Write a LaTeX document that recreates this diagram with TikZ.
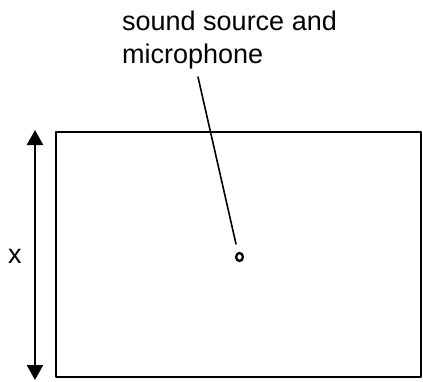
\documentclass[tikz,border=0pt]{standalone}
\usepackage{fontspec}
\setmainfont{Liberation Sans}
\usetikzlibrary{arrows.meta}
\tikzset{
  txt/.style={font=\fontsize{27}{33}\selectfont, inner sep=0pt, align=left},
  tip/.style={Triangle[width=16pt,length=15pt]},
}
\begin{document}
\begin{tikzpicture}[x=1pt,y=-1pt,line cap=round,line join=round]
  \useasboundingbox (0,0) rectangle (423,381);
  \draw[line width=2.4pt] (56,132) rectangle (421,377);
  \draw[line width=2.4pt,{Triangle[width=16pt,length=15pt]}-{Triangle[width=16pt,length=15pt]}] (35,130) -- (35,380);
  \node[txt] (x) at (15,256) {x};
  \node[txt,anchor=north west] (lbl) at (122,11) {sound source and\\microphone};
  \draw[line width=2.3pt] (239.5,257) ellipse (3.4 and 4);
  \coordinate (src) at (236,244);
  \coordinate (top) at (198,77);
  \draw[line width=1.6pt] (top) -- (src);
\end{tikzpicture}
\end{document}
